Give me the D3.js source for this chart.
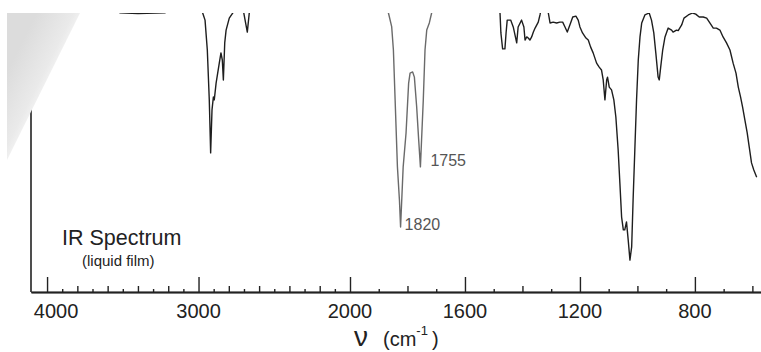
<!DOCTYPE html>
<html>
<head>
<meta charset="utf-8">
<script src="https://cdn.jsdelivr.net/npm/d3@7"></script>
<style>
  html, body { margin: 0; padding: 0; background: #fff; }
  svg { display: block; font-family: "Liberation Sans", Arial, sans-serif; }
</style>
</head>
<body>
<div id="app"></div>
<script>
// wavenumber (cm-1) and % transmittance
const wavenumbers = [
  4106, 3700, 3560, 3520, 3400, 3220, 3150, 3050,
  2990, 2972, 2957, 2942, 2929, 2920, 2911, 2902, 2896, 2884, 2863, 2852, 2843, 2836, 2827, 2818, 2797, 2770, 2740, 2704, 2678, 2665, 2647,
  1900, 1882, 1866, 1855, 1849, 1843, 1835, 1828, 1824, 1815, 1805, 1796, 1791, 1782, 1776, 1768, 1761, 1755, 1751, 1745, 1739, 1733, 1724, 1716, 1704,
  1600, 1490, 1478, 1475, 1469, 1461, 1457, 1453, 1441, 1432, 1420, 1415, 1403, 1395, 1391, 1385, 1380, 1374, 1368, 1362, 1356, 1345, 1339, 1332, 1318,
  1310, 1304, 1293, 1281, 1270, 1260, 1252, 1244, 1235, 1225, 1214, 1206, 1200, 1191, 1179, 1171, 1163, 1154, 1142, 1133, 1125, 1119, 1113, 1107, 1104, 1098, 1090, 1082, 1075, 1067, 1061, 1055, 1049, 1044, 1038, 1032, 1026, 1020, 1015, 1009, 1003, 997, 991, 985, 974, 959,
  951, 943, 936, 928, 924, 919, 912, 904, 893, 881, 876, 864, 858, 846, 838, 823, 808, 797, 785, 771, 759, 748, 736, 725, 713, 702, 690, 678, 667, 657, 649, 641, 634, 626, 618, 611, 603, 595, 585
];
const transmittance = [
  100, 100, 99, 97.3, 97.0, 97.3, 99, 100,
  100, 97.1, 94.7, 84.2, 66.7, 48.1, 63.2, 67.7, 66.7, 72.6, 79.6, 83.2, 80.7, 73.7, 86.7, 91.2, 95.4, 97.5, 100, 98, 90.5, 97.2, 100,
  100, 100, 97.1, 92.4, 84.2, 66.7, 43.2, 31.6, 22.1, 43.2, 55.1, 72.6, 76.1, 76.5, 74.7, 64.2, 52.6, 43.2, 52.6, 66.7, 84.2, 91.2, 93.7, 97.2, 100,
  100, 100, 97.1, 90.2, 84.6, 84.6, 90.2, 94.7, 94.7, 92.3, 86.7, 92.3, 94.7, 92.3, 87.7, 88.8, 88.4, 87.7, 88.8, 90.5, 91.9, 94.0, 96.5, 100, 100,
  97.2, 93.7, 94.0, 93.7, 94.0, 94.0, 92.3, 90.5, 93.0, 95.8, 96.1, 94.7, 92.3, 90.2, 88.4, 87.7, 85.3, 83.2, 79.6, 78.2, 77.2, 73.7, 66.7, 73.7, 74.7, 71.2, 70.2, 66.7, 60.7, 49.1, 37.5, 25.6, 21.1, 21.1, 23.9, 17.5, 10.5, 15.1, 31.6, 49.1, 66.7, 80.7, 88.8, 93.7, 96.5, 97.2,
  94.7, 90.2, 83.2, 74.7, 73.7, 78.2, 84.2, 88.8, 91.9, 91.2, 90.5, 91.2, 91.0, 93.0, 95.4, 96.5, 97.2, 96.8, 95.8, 95.8, 95.4, 93.7, 91.9, 91.9, 91.2, 88.8, 86.7, 84.2, 79.6, 76.1, 71.2, 67.7, 64.2, 59.6, 55.1, 50.2, 44.6, 42.1, 39.6
];

const tickLabels = [4000, 3000, 2000, 1600, 1200, 800];
const majorTicks = [4000, 3000, 2000, 1600, 1200, 800];
const mediumTicks = [3800, 3600, 3400, 3200, 2800, 2600, 2400, 2200, 1800, 1400, 1000, 600];
const minorTicks = [3900, 3700, 3500, 3300, 3100, 2900, 2700, 2500, 2300, 2100, 1900, 1700, 1500, 1300, 1100, 900, 700];

const peakWaves = [1824, 1755];
const peakLabels = ['1820', '1755'];

const width = 761;
const height = 352;

const svg = d3.select('#app')
  .append('svg')
  .attr('width', width)
  .attr('height', height);

const defs = svg.append('defs');

defs.append('clipPath')
  .attr('id', 'plot-clip')
  .append('rect')
  .attr('x', 31).attr('y', 13)
  .attr('width', 730).attr('height', 280);

// scale changes at 2000 cm-1 like the printed chart paper
const x = d3.scaleLinear()
  .domain([4106, 2000, 570])
  .range([31, 350, 761]);

const y = d3.scaleLinear()
  .domain([0, 100])
  .range([290, 5]);

const data = wavenumbers.map((w, i) => ({ w, t: transmittance[i] }));

// the carbonyl part of the trace is printed lighter
const grad = defs.append('linearGradient')
  .attr('id', 'trace')
  .attr('gradientUnits', 'userSpaceOnUse')
  .attr('x1', 0).attr('x2', width).attr('y1', 0).attr('y2', 0);
[[0, '#1e1e1e'], [372 / width, '#1e1e1e'], [382 / width, '#6a6a6a'], [436 / width, '#6a6a6a'], [446 / width, '#1e1e1e'], [1, '#1e1e1e']]
  .forEach(([o, c]) => grad.append('stop').attr('offset', o).attr('stop-color', c));

// y axis line
svg.append('line')
  .attr('x1', 31).attr('x2', 31)
  .attr('y1', 13).attr('y2', 292)
  .attr('stroke', '#222')
  .attr('stroke-width', 1.6);

// x axis: three passes for the three tick lengths
const axisY = 292;
const addTicks = (values, size) => {
  const g = svg.append('g')
    .attr('transform', `translate(0,${axisY})`)
    .call(d3.axisBottom(x).tickValues(values).tickSizeInner(-size).tickSizeOuter(0).tickFormat(''));
  g.selectAll('line').attr('stroke', '#222').attr('stroke-width', 1.4);
  g.select('.domain').attr('stroke', '#222').attr('stroke-width', 1.6);
  g.selectAll('text').remove();
  return g;
};
addTicks(minorTicks, 3);
addTicks(mediumTicks, 6);
addTicks(majorTicks, 15);

svg.append('g')
  .selectAll('text')
  .data(tickLabels)
  .join('text')
  .attr('x', d => x(d))
  .attr('dx', d => d === 4000 ? 9 : 0)
  .attr('y', 318)
  .attr('text-anchor', 'middle')
  .attr('font-size', 20)
  .attr('fill', '#222')
  .text(d => d);

// axis title
const title = svg.append('text')
  .attr('x', 354)
  .attr('y', 346)
  .attr('fill', '#222');
title.append('tspan').attr('font-size', 28).text('ν');
title.append('tspan').attr('font-size', 20).attr('dx', 15).text('(cm');
title.append('tspan').attr('font-size', 13).attr('dy', -11).text('-1');
title.append('tspan').attr('font-size', 20).attr('dy', 11).attr('dx', 4).text(')');

// spectrum trace
svg.append('path')
  .datum(data)
  .attr('clip-path', 'url(#plot-clip)')
  .attr('fill', 'none')
  .attr('stroke', 'url(#trace)')
  .attr('stroke-width', 1.4)
  .attr('stroke-linejoin', 'round')
  .attr('d', d3.line().x(d => x(d.w)).y(d => y(d.t)));

// peak labels
svg.append('g')
  .selectAll('text')
  .data(peakWaves)
  .join('text')
  .attr('x', (d, i) => x(d) + (i === 0 ? 4 : 10))
  .attr('y', (d, i) => y(transmittance[wavenumbers.indexOf(d)]) + (i === 0 ? 3 : -1))
  .attr('font-size', 16)
  .attr('fill', '#555')
  .text((d, i) => peakLabels[i]);

// caption
svg.append('text')
  .attr('x', 62).attr('y', 245)
  .attr('font-size', 21.5)
  .attr('fill', '#222')
  .text('IR Spectrum');
svg.append('text')
  .attr('x', 82).attr('y', 266)
  .attr('font-size', 15)
  .attr('fill', '#222')
  .text('(liquid film)');

// curled page corner from the scan
const curl = defs.append('linearGradient')
  .attr('id', 'curl')
  .attr('gradientUnits', 'userSpaceOnUse')
  .attr('x1', 8).attr('y1', 70).attr('x2', 48).attr('y2', 90);
[[0, '#dcdcdc'], [0.75, '#eaeaea'], [1, '#f6f6f6']]
  .forEach(([o, c]) => curl.append('stop').attr('offset', o).attr('stop-color', c));
svg.append('path')
  .attr('d', 'M7,13 L80,13 L7,160 Z')
  .attr('fill', 'url(#curl)');
</script>
</body>
</html>
